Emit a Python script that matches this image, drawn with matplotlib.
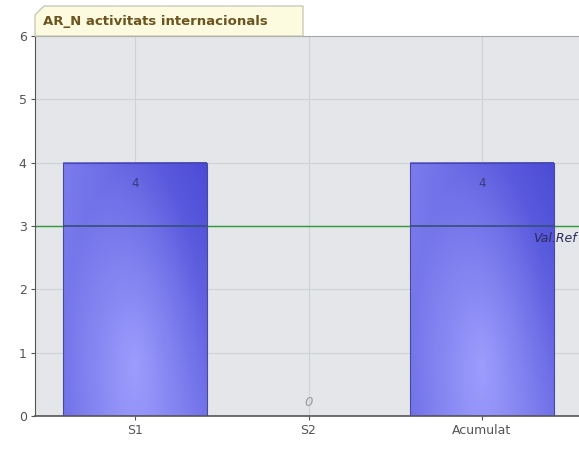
import matplotlib
matplotlib.use("Agg")
import matplotlib.pyplot as plt
import numpy as np
from matplotlib.patches import Polygon, Rectangle

categories = ["S1", "S2", "Acumulat"]
values = [4, 0, 4]
ref_value = 3
ref_label = "Val.Ref"
title = "AR_N activitats internacionals"
y_ticks = [0, 1, 2, 3, 4, 5, 6]

W, H = 579, 449
fig = plt.figure(figsize=(W / 100, H / 100), dpi=100)
ax = fig.add_axes([35 / W, 1 - 416 / H, (582 - 35) / W, (416 - 36) / H])
ax.set_facecolor("#e4e6e9")

x = np.arange(len(categories))
bar_w = 0.83
ax.set_xlim(-0.578, 2.578)
ax.set_ylim(0, 6)

# gradient bars: light glow near the bottom centre, darker blue top-right
gx, gy = np.meshgrid(np.linspace(0, 1, 120), np.linspace(0, 1, 200))
r = np.sqrt(((gx - 0.5) * 2) ** 2 + ((gy - 0.2) / 0.8) ** 2)
t = 0.5 * np.clip(r, 0, 1) + 0.45 * gx * gy - 0.1 * (1 - gx) * gy
t = np.clip(t, 0, 1)
light = np.array([160, 160, 255]) / 255
dark = np.array([70, 70, 212]) / 255
img = light[None, None, :] * (1 - t[..., None]) + dark[None, None, :] * t[..., None]

for xi, v in zip(x, values):
    if v <= 0:
        continue
    x0 = xi - bar_w / 2
    ax.imshow(img, extent=[x0, x0 + bar_w, 0, v], origin="lower",
              aspect="auto", zorder=2, interpolation="bilinear")
    ax.add_patch(Rectangle((x0, 0), bar_w, v, fill=False,
                           edgecolor="#4a4a9a", lw=0.8, zorder=3))

for xi, v in zip(x, values):
    if v > 0:
        ax.text(xi, v - 0.33, str(v), ha="center", va="center",
                fontsize=8.5, color="#3a3a7a", zorder=4)
    else:
        ax.text(xi, v + 0.22, str(v), ha="center", va="center",
                fontsize=9.5, color="#9a9a9a", style="italic", zorder=4)

# reference line: green on the background, darker where it crosses the bars
ax.axhline(ref_value, color="#2e9a3a", lw=1.0, zorder=1.5)
for xi, v in zip(x, values):
    if v > ref_value:
        ax.hlines(ref_value, xi - bar_w / 2, xi + bar_w / 2,
                  color="#34507a", lw=1.2, zorder=3.5)
ax.text(2.545, ref_value - 0.2, ref_label, ha="right", va="center",
        fontsize=9, style="italic", color="#2a2a5a", zorder=5)

ax.set_xticks(x)
ax.set_xticklabels(categories, fontsize=9, color="#555555")
ax.set_yticks(y_ticks)
ax.set_yticklabels([str(t) for t in y_ticks], fontsize=9, color="#555555")
ax.grid(True, color="#cfd2d6", lw=0.8, zorder=0)
ax.set_axisbelow(True)
ax.tick_params(length=3, color="#555555", pad=3)
ax.spines["right"].set_visible(False)
ax.spines["top"].set_color("#a8a8a8")
ax.spines["top"].set_linewidth(0.8)
ax.spines["left"].set_color("#555555")
ax.spines["bottom"].set_color("#555555")
ax.spines["bottom"].set_linewidth(1.2)

# title tab with clipped top-left corner
tx0, tx1, ty0, ty1, cut = 35, 303, 36, 6, 9
pts = [(tx0, ty0), (tx0, ty1 + cut), (tx0 + cut, ty1), (tx1, ty1), (tx1, ty0)]
pts = [(px / W, 1 - py / H) for px, py in pts]
fig.patches.append(Polygon(pts, closed=True, facecolor="#fcfadf",
                           edgecolor="#bdbdae", lw=0.8,
                           transform=fig.transFigure, zorder=5))
fig.text(43 / W, 1 - 22 / H, title, ha="left", va="center", fontsize=9.5,
         fontweight="bold", color="#6b5420", zorder=6)

fig.savefig("out.png", dpi=100)
